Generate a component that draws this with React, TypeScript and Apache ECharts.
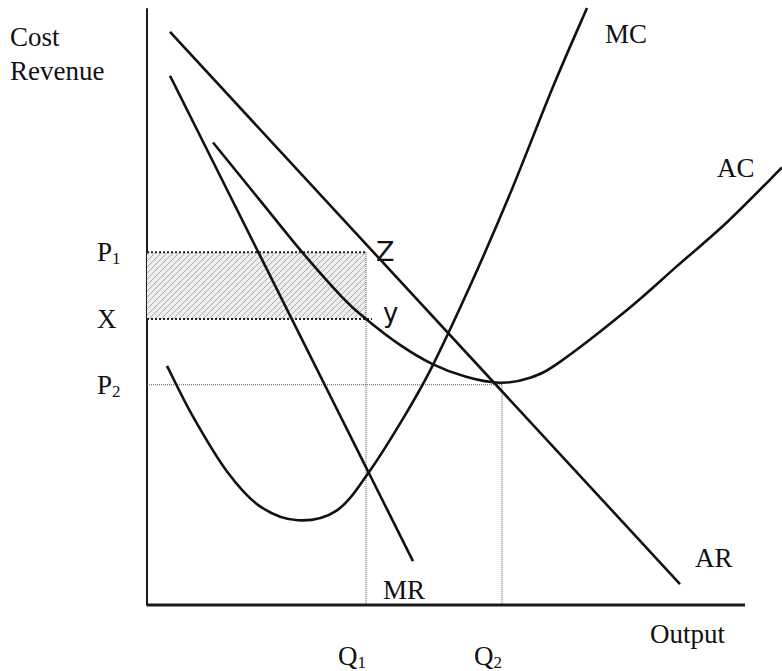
import React, { useEffect, useRef } from "react";
import * as echarts from "echarts";

// Values, in plot units (1 unit ≈ 1 px, origin at axes corner)
const mcPoints: number[][] = [
  [20, 240], [46, 189], [80, 134], [113, 99], [151, 85], [190, 95], [221, 132],
  [256, 187], [285, 239], [323, 320], [362, 410], [406, 520], [440, 599],
];
const acPoints: number[][] = [
  [66, 464], [113, 406], [156, 353], [196, 308], [219, 287], [253, 261],
  [285, 242], [319, 229], [353, 223], [383, 228], [413, 244], [480, 296],
  [530, 340], [580, 384], [635, 439],
];
const arPoints: number[][] = [[23, 575], [533, 21]];
const mrPoints: number[][] = [[23, 531], [266, 44]];
const xAxisLine: number[][] = [[0, 0], [598, 0]];

const priceTickValues = [221, 287, 354];
const priceTickLabels = ["P2", "X", "P1"];
const outputTickValues = [219, 355];
const outputTickLabels = ["Q1", "Q2"];

const P1 = 354;
const XLEVEL = 287;
const P2 = 221;
const Q1 = 219;
const Q2 = 355;

const SERIF = '"Liberation Serif", "Times New Roman", serif';

function hatchPattern() {
  const c = document.createElement("canvas");
  c.width = 6;
  c.height = 6;
  const ctx = c.getContext("2d");
  if (ctx) {
    ctx.fillStyle = "rgba(238,238,238,1)";
    ctx.fillRect(0, 0, 6, 6);
    ctx.strokeStyle = "rgba(150,150,150,0.75)";
    ctx.lineWidth = 1;
    ctx.beginPath();
    ctx.moveTo(-1, 7);
    ctx.lineTo(7, -1);
    ctx.moveTo(-1, 1);
    ctx.lineTo(1, -1);
    ctx.moveTo(5, 7);
    ctx.lineTo(7, 5);
    ctx.stroke();
  }
  return { image: c, repeat: "repeat", imageWidth: 6, imageHeight: 6 } as any;
}

function tickRich(label: string) {
  if (label.length === 2) return `{a|${label[0]}}{s|${label[1]}}`;
  return `{a|${label}}`;
}

const richStyles = {
  a: { fontFamily: SERIF, fontSize: 27, color: "#111", lineHeight: 30 },
  s: { fontFamily: SERIF, fontSize: 17, color: "#111", lineHeight: 17, verticalAlign: "bottom" },
};

function txt(text: string, x: number, y: number, size = 27, family = SERIF, weight = "normal") {
  return {
    type: "text",
    x,
    y,
    silent: true,
    style: {
      text,
      font: `${weight} ${size}px ${family}`,
      fill: "#111",
      align: "left",
      verticalAlign: "middle",
    },
  };
}

function straight(name: string, data: number[][]) {
  return {
    name,
    type: "line",
    data,
    symbol: "none",
    clip: false,
    silent: true,
    z: 5,
    lineStyle: { color: "#111", width: 2.6 },
  };
}

// Smooth curve through the read points (Catmull-Rom drawn as cubic Béziers),
// every point placed through the axes' own scale via api.coord.
function smoothCurve(name: string, pts: number[][]) {
  return {
    name,
    type: "custom",
    silent: true,
    clip: false,
    z: 5,
    data: pts,
    encode: { x: 0, y: 1 },
    renderItem: (params: any, api: any) => {
      if (params.dataIndex !== 0) return null;
      const c = pts.map((p) => api.coord(p));
      let d = `M${c[0][0]},${c[0][1]}`;
      for (let i = 0; i < c.length - 1; i++) {
        const p0 = c[Math.max(i - 1, 0)];
        const p1 = c[i];
        const p2 = c[i + 1];
        const p3 = c[Math.min(i + 2, c.length - 1)];
        const c1x = p1[0] + (p2[0] - p0[0]) / 6;
        const c1y = p1[1] + (p2[1] - p0[1]) / 6;
        const c2x = p2[0] - (p3[0] - p1[0]) / 6;
        const c2y = p2[1] - (p3[1] - p1[1]) / 6;
        d += ` C${c1x},${c1y} ${c2x},${c2y} ${p2[0]},${p2[1]}`;
      }
      return {
        type: "path",
        shape: { pathData: d },
        style: { fill: "none", stroke: "#111", lineWidth: 2.6 },
      };
    },
  };
}

function guide(data: number[][], width: number, color: string, z = 2, extra: any = {}) {
  return {
    type: "line",
    data,
    symbol: "none",
    silent: true,
    z,
    lineStyle: { color, width, type: "dotted" },
    ...extra,
  };
}

export default function App() {
  const ref = useRef<HTMLDivElement>(null);

  useEffect(() => {
    document.body.style.margin = "0";
    if (!ref.current) return;
    const chart = echarts.init(ref.current, undefined, { renderer: "svg" });
    const option: any = {
      animation: false,
      backgroundColor: "#fff",
      grid: { left: 147, top: 9, width: 635, height: 598, containLabel: false },
      xAxis: {
        type: "value",
        min: 0,
        max: 635,
        axisLine: { show: false },
        axisTick: { show: false },
        splitLine: { show: false },
        axisLabel: {
          customValues: outputTickValues,
          margin: 36,
          align: "right",
          verticalAlign: "top",
          formatter: (v: number) => tickRich(outputTickLabels[outputTickValues.indexOf(v)] || ""),
          rich: richStyles,
        },
      },
      yAxis: {
        type: "value",
        min: 0,
        max: 598,
        axisLine: { show: true, lineStyle: { color: "#1a1a1a", width: 2 } },
        axisTick: { show: false },
        splitLine: { show: false },
        axisLabel: {
          customValues: priceTickValues,
          margin: 50,
          align: "left",
          verticalAlign: "middle",
          formatter: (v: number) => tickRich(priceTickLabels[priceTickValues.indexOf(v)] || ""),
          rich: richStyles,
        },
      },
      series: [
        guide([[0, P1], [Q1, P1]], 2, "#222", 3, {
          markArea: {
            silent: true,
            label: { show: false },
            itemStyle: { color: hatchPattern() },
            data: [[{ coord: [0, XLEVEL] }, { coord: [Q1, P1] }]],
          },
        }),
        guide([[0, XLEVEL], [Q1 + 6, XLEVEL]], 2, "#222", 3),
        guide([[Q1, P1], [Q1, 0]], 1, "#555"),
        guide([[0, P2], [Q2, P2]], 1, "#555"),
        guide([[Q2, P2], [Q2, 0]], 1, "#555"),
        {
          type: "line",
          data: xAxisLine,
          symbol: "none",
          silent: true,
          clip: false,
          z: 6,
          lineStyle: { color: "#1a1a1a", width: 3 },
        },
        straight("AR", arPoints),
        straight("MR", mrPoints),
        smoothCurve("MC", mcPoints),
        smoothCurve("AC", acPoints),
      ],
      graphic: [
        txt("Cost", 10, 37),
        txt("Revenue", 10, 71),
        txt("MC", 605, 34),
        txt("AC", 717, 168),
        txt("AR", 695, 558),
        txt("MR", 383, 590),
        txt("Output", 650, 634),
        txt("Z", 376, 251, 27, '"DejaVu Sans", sans-serif'),
        txt("y", 383, 313, 26, '"DejaVu Sans", sans-serif'),
      ],
    };
    chart.setOption(option);
    return () => chart.dispose();
  }, []);

  return <div ref={ref} style={{ width: 782, height: 671 }} />;
}
